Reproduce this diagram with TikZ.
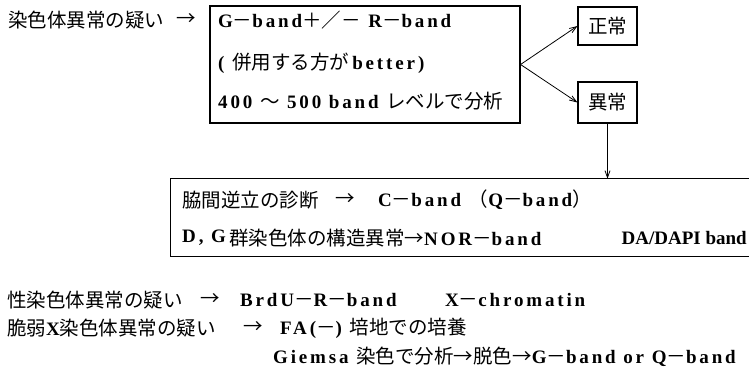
\documentclass[tikz,border=0pt]{standalone}
\usepackage{fontspec}
\usetikzlibrary{arrows.meta}
\setmainfont{Liberation Serif}[LetterSpace=15]
\newfontfamily\latn{Liberation Serif}
\newfontfamily\jpf{Noto Sans CJK JP}
\newcommand\J[1]{{\jpf\mdseries\fontsize{19.5}{22}\selectfont #1}}
\newcommand\tx{\fontsize{19}{22}\selectfont\bfseries}
\begin{document}
\begin{tikzpicture}[x=1pt,y=-1pt,
  every node/.style={inner sep=0pt, font=\tx},
  box/.style={draw, line width=1.1pt},
  arr/.style={-{Straight Barb[length=7pt,width=5pt]}, line width=0.8pt}]
\useasboundingbox (0,0) rectangle (749,380);
% top row
\node[anchor=west] (q1) at (8,20) {\J{染色体異常の疑い}};
\node (q1a) at (186,20) {\J{→}};
\node[box, minimum width=310pt, minimum height=117pt] (b1) at (365,64.5) {};
\node[anchor=west] (b1l1) at (218,20) {G\J{－}band\J{＋／－} R\J{－}band};
\node[anchor=west] (b1l2) at (218,63) {( \J{併用する方が}\,better\,)};
\node[anchor=west] (b1l3) at (218,101) {400 \J{～} 500 band \J{レベルで分析}};
\node[box, minimum width=59pt, minimum height=38pt] (ok) at (607.5,26) {\J{正常}};
\node[box, minimum width=59pt, minimum height=41pt] (ab) at (607.5,102.5) {\J{異常}};
\draw[arr] (b1.east) -- (ok.west);
\draw[arr] (b1.east) -- (ab.west);
% big box
\node[minimum width=578pt, minimum height=77pt] (big) at (460,217.5) {};
\draw[line width=1.1pt] (big.north east) -- (big.north west) -- (big.south west) -- (big.south east);
\draw[arr] (ab.south) -- (ab.south |- big.north);
\node[anchor=west] (c1) at (182,200) {\J{脇間逆立の診断}};
\node (c1a) at (345,200) {\J{→}};
\node[anchor=west] (c1b) at (378,200) {C\J{－}band \J{（}Q\J{－}band\J{）}};
\node[anchor=west] (c2) at (182,238) {D, G};
\node[anchor=west] (c2b) at (229,238) {\J{群染色体の構造異常→}NOR\J{－}band};
\node[anchor=east] (c2c) at (747,238) {\latn DA/DAPI band};
% bottom lines
\node[anchor=west] (s1) at (7,300) {\J{性染色体異常の疑い}};
\node (s1a) at (210,300) {\J{→}};
\node[anchor=west] (s1b) at (240,300) {BrdU\J{－}R\J{－}band};
\node[anchor=west] (s1c) at (445,300) {X\J{－}chromatin};
\node[anchor=west] (s2) at (7,328) {\J{脆弱}X\J{染色体異常の疑い}};
\node (s2a) at (253,328) {\J{→}};
\node[anchor=west] (s2b) at (280,328) {FA(\J{－}) \J{培地での培養}};
\node[anchor=west] (s3) at (273,357) {Giemsa \J{染色で分析→脱色→}G\J{－}band or Q\J{－}band};
\end{tikzpicture}
\end{document}
